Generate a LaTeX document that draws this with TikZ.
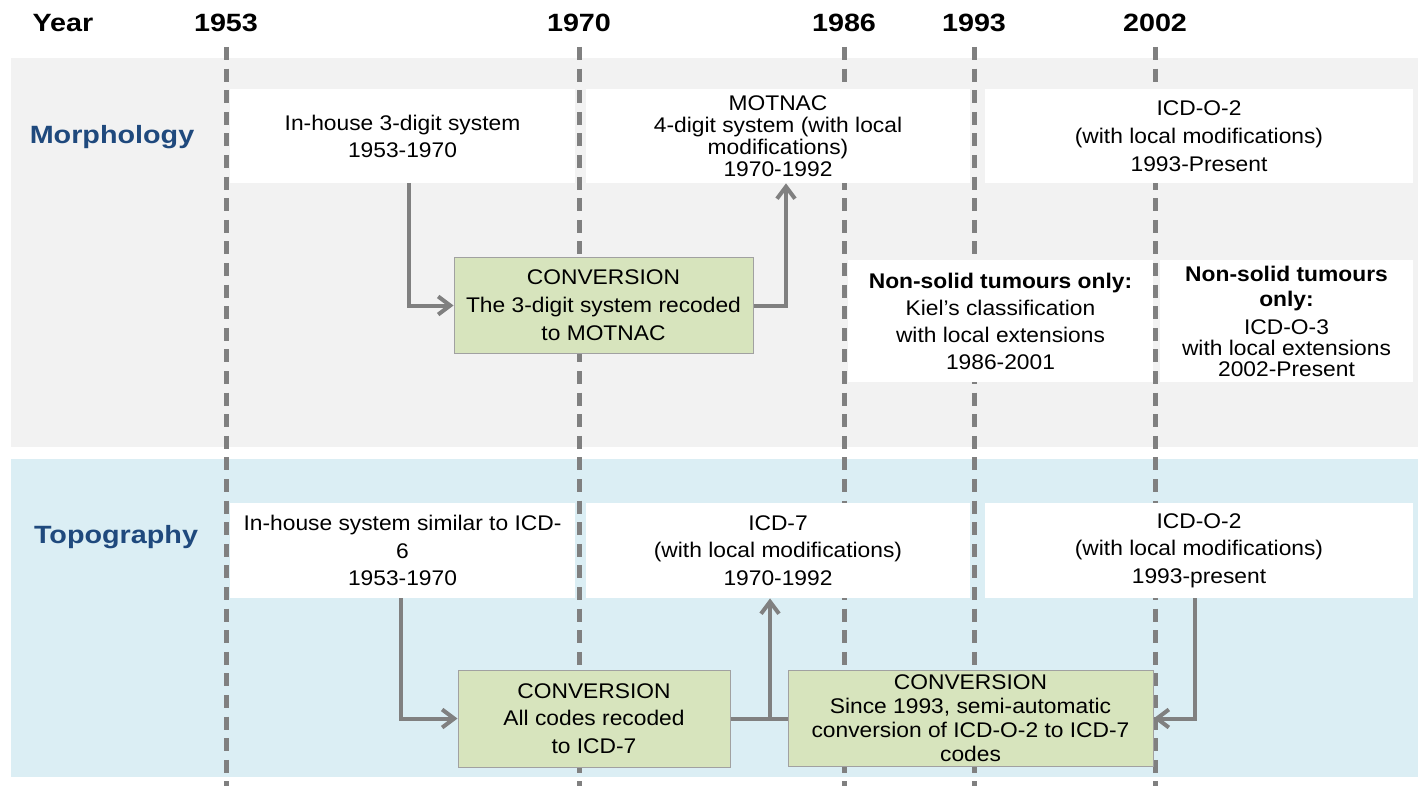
\documentclass[tikz,border=0pt]{standalone}
\usepackage{fontspec}
\setmainfont{Liberation Sans}[FakeStretch=1.075]
\newfontfamily\headfont{Liberation Sans}[FakeStretch=1.15]
\usetikzlibrary{arrows.meta}

\definecolor{panelgrey}{HTML}{F2F2F2}
\definecolor{panelblue}{HTML}{DBEEF4}
\definecolor{convgreen}{HTML}{D7E4BD}
\definecolor{linegrey}{HTML}{808080}
\definecolor{titleblue}{HTML}{1F497D}

\begin{document}
\begin{tikzpicture}[x=0.5pt,y=-0.5pt,
    yearline/.style={linegrey,line width=2.5pt,dash pattern=on 6.5pt off 4.3pt},
    heading/.style={font=\headfont\bfseries\fontsize{12.5}{15}\selectfont},
    period/.style={fill=white,inner sep=0pt,align=center,font=\fontsize{10.6}{13.5}\selectfont},
    conv/.style={fill=convgreen,draw=black!37,line width=0.5pt,inner sep=0pt,align=center,font=\fontsize{10.6}{13.5}\selectfont},
    flowline/.style={linegrey,line width=2pt},
    flow/.style={flowline,-{Straight Barb[length=6pt,width=9pt]}}]

    \useasboundingbox (0,0) rectangle (1418,786);

    % two bands
    \fill[panelgrey] (11,58) rectangle (1418,447);
    \fill[panelblue] (11,459) rectangle (1418,777);

    % time axis
    \node[heading] (year) at (63,23) {Year};
    \foreach \yr/\xpos in {1953/226,1970/579,1986/844,1993/974,2002/1155} {
        \node[heading] (y\yr) at (\xpos,23) {\yr};
        \draw[yearline] (\xpos,47) -- (\xpos,786);
    }

    \node[heading,text=titleblue] (morph) at (112,137) {Morphology};
    \node[heading,text=titleblue] (topo) at (116,537) {Topography};

    % morphology
    \node[period,minimum width=172.5pt,minimum height=47pt] (m1) at (402.5,136)
        {In-house 3-digit system\\1953-1970};
    \node[period,minimum width=192pt,minimum height=47pt,font=\fontsize{10.6}{11}\selectfont] (m2) at (778,136)
        {MOTNAC\\4-digit system (with local\\modifications)\\1970-1992};
    \node[period,minimum width=214pt,minimum height=47pt,font=\fontsize{10.6}{14}\selectfont] (m3) at (1199,136)
        {ICD-O-2\\(with local modifications)\\1993-Present};
    \node[conv,minimum width=149.5pt,minimum height=47.5pt,font=\fontsize{10.6}{14}\selectfont] (c1) at (603.5,305.5)
        {CONVERSION\\The 3-digit system recoded\\to MOTNAC};
    \node[period,minimum width=152.5pt,minimum height=61pt] (n1) at (1000.5,321)
        {\textbf{Non-solid tumours only:}\\Kiel’s classification\\with local extensions\\1986-2001};
    \node[period,minimum width=126.5pt,minimum height=61pt,font=\fontsize{10.6}{10.5}\selectfont] (n2) at (1286.5,321)
        {\textbf{Non-solid tumours}\\[2pt]\textbf{only:}\\[3.5pt]ICD-O-3\\with local extensions\\2002-Present};

    \draw[flow] ([xshift=3pt]m1.south) |- (c1.west);
    \draw[flow] (c1.east) -| ([xshift=4pt]m2.south);

    % topography
    \node[period,minimum width=172.5pt,minimum height=47.5pt,font=\fontsize{10.6}{13.75}\selectfont] (t1) at (402.5,550.5)
        {In-house system similar to ICD-\\6\\1953-1970};
    \node[period,minimum width=192pt,minimum height=47.5pt,font=\fontsize{10.6}{13.75}\selectfont] (t2) at (778,550.5)
        {ICD-7\\(with local modifications)\\1970-1992};
    \node[period,minimum width=214pt,minimum height=47.5pt,font=\fontsize{10.6}{13.75}\selectfont] (t3) at (1199,550.5)
        {ICD-O-2\\(with local modifications)\\1993-present};
    \node[conv,minimum width=136pt,minimum height=48.5pt,font=\fontsize{10.6}{13.75}\selectfont] (c2) at (594,718.5)
        {CONVERSION\\All codes recoded\\to ICD-7};
    \node[conv,minimum width=182.5pt,minimum height=48pt,font=\fontsize{10.6}{12}\selectfont] (c3) at (970.5,718.5)
        {CONVERSION\\Since 1993, semi-automatic\\conversion of ICD-O-2 to ICD-7\\codes};

    \draw[flow] ([xshift=-1pt]t1.south) |- (c2.west);
    \draw[flowline] (c2.east) -- (c3.west);
    \coordinate (t2in) at ([xshift=-4pt]t2.south);
    \coordinate (split) at (t2in |- c2.east);
    \draw[flow] (split) -- (t2in);
    \draw[flow] ([xshift=-2pt]t3.south) |- (c3.east);
\end{tikzpicture}
\end{document}
